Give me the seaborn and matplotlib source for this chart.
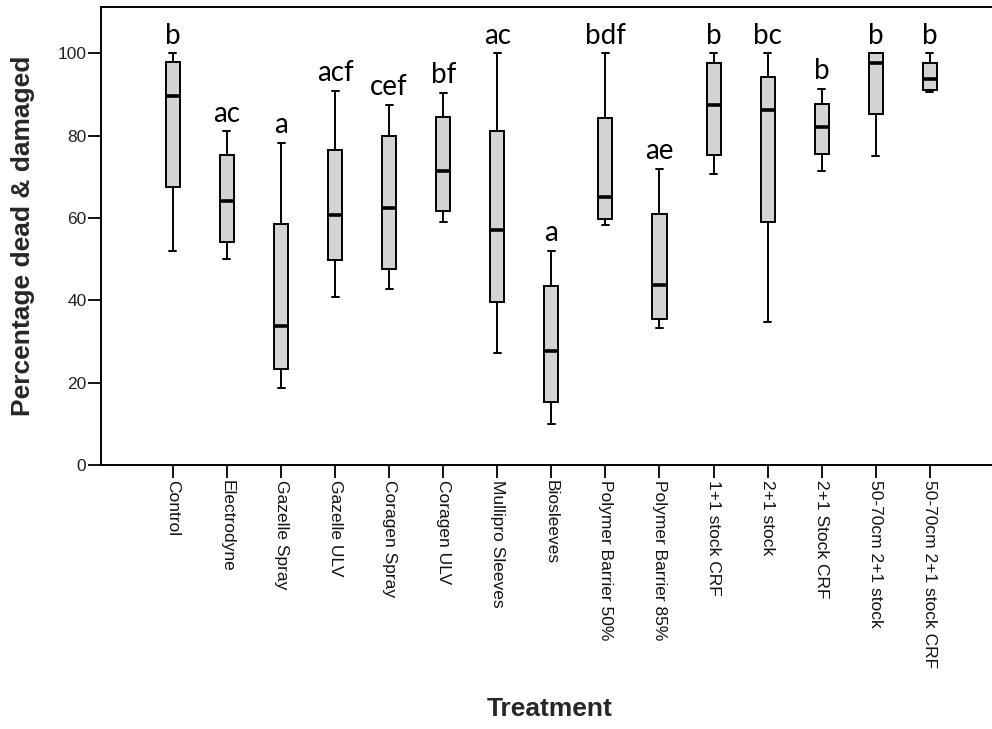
import numpy as np
import pandas as pd
import matplotlib
matplotlib.use("Agg")
import matplotlib.pyplot as plt
import seaborn as sns

treatments = ["Control", "Electrodyne", "Gazelle Spray", "Gazelle ULV", "Coragen Spray",
              "Coragen ULV", "Mullipro Sleeves", "Biosleeves", "Polymer Barrier 50%",
              "Polymer Barrier 85%", "1+1 stock CRF", "2+1 stock", "2+1 Stock CRF",
              "50-70cm 2+1 stock", "50-70cm 2+1 stock CRF"]
whisker_low = [52.0, 50.0, 18.8, 40.9, 42.8, 59.1, 27.3, 10.0, 58.2, 33.3, 70.6, 34.7, 71.4, 75.0, 90.5]
q1 = [67.5, 54.1, 23.4, 49.8, 47.5, 61.6, 39.5, 15.3, 59.8, 35.4, 75.2, 59.1, 75.5, 85.1, 91.0]
median = [89.5, 64.0, 33.7, 60.6, 62.5, 71.4, 57.1, 27.8, 65.0, 43.8, 87.5, 86.1, 82.0, 97.7, 93.7]
q3 = [97.9, 75.3, 58.6, 76.6, 80.0, 84.6, 81.0, 43.4, 84.3, 60.9, 97.5, 94.2, 87.6, 100.0, 97.7]
whisker_high = [100.0, 81.0, 78.2, 90.9, 87.5, 90.4, 100.0, 52.0, 100.0, 71.9, 100.0, 100.0, 91.4, 100.0, 100.0]
letters = ["b", "ac", "a", "acf", "cef", "bf", "ac", "a", "bdf", "ae", "b", "bc", "b", "b", "b"]

rows = []
for i, t in enumerate(treatments):
    for v in (whisker_low[i], q1[i], median[i], q3[i], whisker_high[i]):
        rows.append({"Treatment": t, "Value": v})
df = pd.DataFrame(rows)

sns.set_style("white")
plt.rcParams["font.family"] = ["Liberation Sans", "DejaVu Sans"]

fig = plt.figure(figsize=(9.92, 7.29), dpi=100)
ax = fig.add_axes([101 / 992, 1 - 465 / 729, 891 / 992, 458 / 729])

sns.boxplot(data=df, x="Treatment", y="Value", order=treatments, ax=ax,
            color="#d3d3d3", saturation=1, linecolor="black", linewidth=1.4,
            width=0.26, whis=(0, 100), showfliers=False,
            medianprops={"linewidth": 2.6, "color": "black"})

for i, lab in enumerate(letters):
    ax.text(i, whisker_high[i] + 2.3, lab, ha="center", va="baseline",
            fontsize=20, family=["Lato", "DejaVu Sans"], color="black")

ax.set_ylim(0, 111.2)
ax.set_xlim(-1.33, 15.15)
ax.set_yticks([0, 20, 40, 60, 80, 100])
ax.set_yticklabels(["0", "20", "40", "60", "80", "100"], fontsize=12.5, color="#222222")
ax.set_xticks(range(len(treatments)))
ax.set_xticklabels(treatments, rotation=-90, fontsize=12.5, color="#111111", va="top", ha="center")

ax.tick_params(axis="both", which="major", length=9.5, width=1.3, color="black",
               left=True, bottom=True, direction="out", pad=1)

for side in ["left", "bottom", "top"]:
    ax.spines[side].set_visible(True)
    ax.spines[side].set_color("black")
    ax.spines[side].set_linewidth(1.4)
ax.spines["right"].set_visible(False)

ax.set_ylabel("Percentage dead & damaged", fontsize=19, fontweight="bold", va="center")
ax.yaxis.set_label_coords((23 - 101) / 891, 0.5)
ax.set_xlabel("Treatment", fontsize=19, fontweight="bold", va="center")
ax.xaxis.set_label_coords(0.504, (465 - 709) / 458)

fig.savefig("out.png", dpi=100)
